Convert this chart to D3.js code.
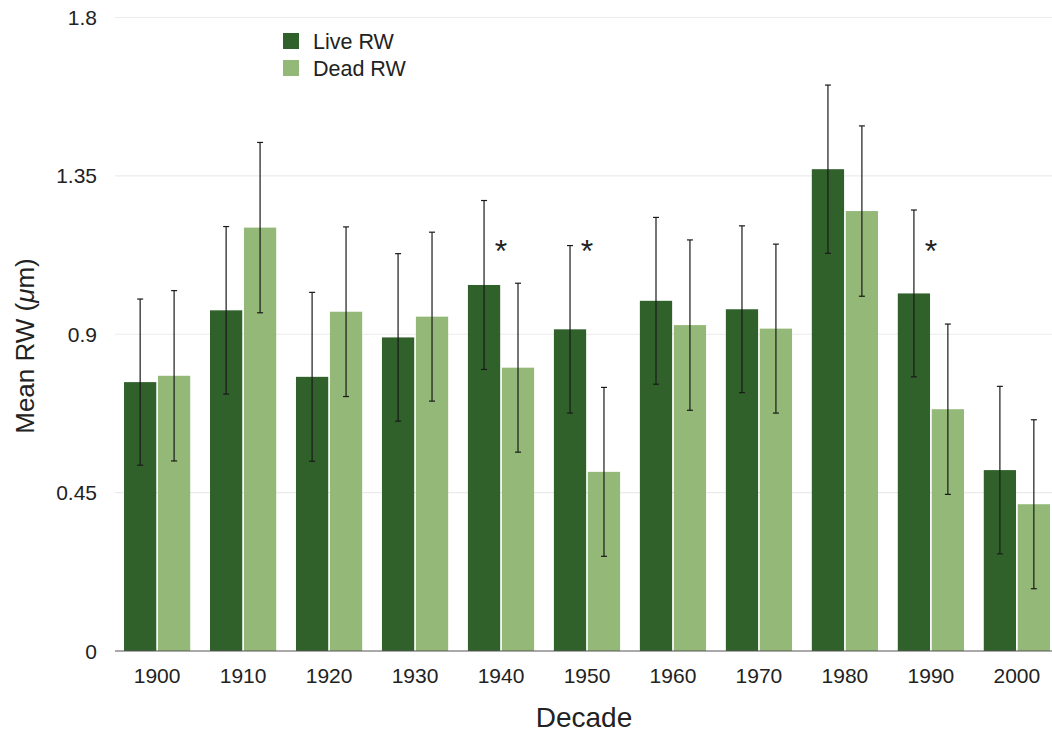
<!DOCTYPE html>
<html>
<head>
<meta charset="utf-8">
<script src="https://cdn.jsdelivr.net/npm/d3@7"></script>
<style>
  html, body { margin: 0; padding: 0; background: #fff; }
  svg { display: block; font-family: "Liberation Sans", Arial, Helvetica, sans-serif; }
</style>
</head>
<body>
<svg id="chart" width="1052" height="733"></svg>
<script>
// Decades on the x axis
const decades = ["1900", "1910", "1920", "1930", "1940", "1950", "1960", "1970", "1980", "1990", "2000"];

// Mean ring width per decade
const liveRW = [0.764, 0.968, 0.779, 0.891, 1.040, 0.914, 0.995, 0.971, 1.369, 1.016, 0.514];
const deadRW = [0.782, 1.203, 0.964, 0.950, 0.805, 0.509, 0.926, 0.916, 1.250, 0.687, 0.417];

// Error bar half-widths
const liveErr = [0.236, 0.238, 0.240, 0.238, 0.240, 0.238, 0.237, 0.237, 0.239, 0.237, 0.238];
const deadErr = [0.242, 0.242, 0.241, 0.240, 0.240, 0.240, 0.242, 0.240, 0.242, 0.242, 0.240];

// Decades where live and dead differ significantly
const significant = ["1940", "1950", "1990"];

const yTicks = [0, 0.45, 0.9, 1.35, 1.8];
const yTickLabels = ["0", "0.45", "0.9", "1.35", "1.8"];

const seriesNames = ["Live RW", "Dead RW"];
const colors = { "Live RW": "#30612b", "Dead RW": "#94b877" };

const svg = d3.select("#chart");
const plotLeft = 115, plotRight = 1059, plotTop = 17.5, plotBottom = 651;

const x = d3.scaleBand().domain(decades).range([plotLeft, plotRight])
  .paddingInner(0.23).paddingOuter(0.105);
const xInner = d3.scaleBand().domain(seriesNames).range([0, x.bandwidth()]).paddingInner(0.05);
const y = d3.scaleLinear().domain([0, 1.8]).range([plotBottom, plotTop]);

// Horizontal gridlines
svg.append("g")
  .selectAll("line")
  .data(yTicks.filter(d => d > 0))
  .join("line")
  .attr("x1", plotLeft).attr("x2", 1052)
  .attr("y1", d => y(d)).attr("y2", d => y(d))
  .attr("stroke", "#ebebeb").attr("stroke-width", 1.2);

// Y tick labels
svg.append("g")
  .selectAll("text")
  .data(yTicks)
  .join("text")
  .attr("x", 97)
  .attr("y", d => y(d))
  .attr("dy", "0.36em")
  .attr("text-anchor", "end")
  .attr("font-size", 21)
  .attr("fill", "#222")
  .text((d, i) => yTickLabels[i]);

// Bars and error bars
const rows = decades.map((d, i) => ({
  decade: d,
  values: [
    { name: "Live RW", value: liveRW[i], err: liveErr[i] },
    { name: "Dead RW", value: deadRW[i], err: deadErr[i] }
  ]
}));

const groups = svg.append("g")
  .selectAll("g")
  .data(rows)
  .join("g")
  .attr("transform", d => `translate(${x(d.decade)},0)`);

groups.selectAll("rect")
  .data(d => d.values)
  .join("rect")
  .attr("x", d => xInner(d.name))
  .attr("width", xInner.bandwidth())
  .attr("y", d => y(d.value))
  .attr("height", d => y(0) - y(d.value))
  .attr("fill", d => colors[d.name]);

const eb = groups.selectAll("g.err")
  .data(d => d.values)
  .join("g")
  .attr("class", "err")
  .attr("transform", d => `translate(${xInner(d.name) + xInner.bandwidth() / 2},0)`)
  .attr("stroke", "#1a1a1a")
  .attr("stroke-width", 1.2);

eb.append("line")
  .attr("y1", d => y(d.value + d.err))
  .attr("y2", d => y(d.value - d.err));
eb.append("line")
  .attr("x1", -3).attr("x2", 3)
  .attr("y1", d => y(d.value + d.err)).attr("y2", d => y(d.value + d.err));
eb.append("line")
  .attr("x1", -3).attr("x2", 3)
  .attr("y1", d => y(d.value - d.err)).attr("y2", d => y(d.value - d.err));

// Significance markers
svg.append("g")
  .selectAll("text")
  .data(significant)
  .join("text")
  .attr("x", d => x(d) + x.bandwidth() / 2)
  .attr("y", 262)
  .attr("text-anchor", "middle")
  .attr("font-size", 32)
  .attr("fill", "#222")
  .text("*");

// Baseline
svg.append("line")
  .attr("x1", plotLeft).attr("x2", 1052)
  .attr("y1", y(0)).attr("y2", y(0))
  .attr("stroke", "#555").attr("stroke-width", 1.2);

// X tick labels
svg.append("g")
  .selectAll("text")
  .data(decades)
  .join("text")
  .attr("x", d => x(d) + x.bandwidth() / 2)
  .attr("y", 683)
  .attr("text-anchor", "middle")
  .attr("font-size", 21)
  .attr("fill", "#222")
  .text(d => d);

// Axis titles
svg.append("text")
  .attr("x", 584).attr("y", 727)
  .attr("text-anchor", "middle")
  .attr("font-size", 28)
  .attr("fill", "#222")
  .text("Decade");

const yt = svg.append("text")
  .attr("transform", "translate(34,346) rotate(-90)")
  .attr("text-anchor", "middle")
  .attr("font-size", 26)
  .attr("fill", "#222");
yt.append("tspan").text("Mean RW  (");
yt.append("tspan").attr("font-style", "italic").text("\u03bc");
yt.append("tspan").text("m)");

// Legend
const legend = svg.append("g")
  .selectAll("g")
  .data(seriesNames)
  .join("g")
  .attr("transform", (d, i) => `translate(283,${33 + i * 27})`);
legend.append("rect")
  .attr("width", 16).attr("height", 16)
  .attr("fill", d => colors[d]);
legend.append("text")
  .attr("x", 30).attr("y", 8.5)
  .attr("dy", "0.36em")
  .attr("font-size", 21.5)
  .attr("fill", "#222")
  .text(d => d);
</script>
</body>
</html>
